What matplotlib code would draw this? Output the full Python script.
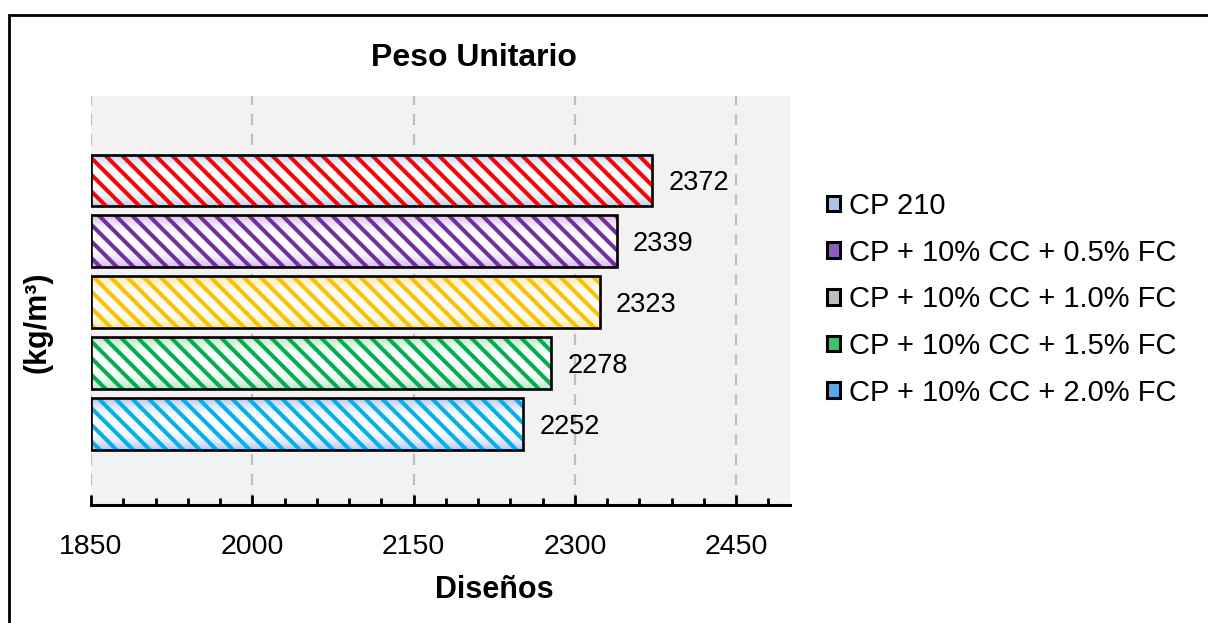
import numpy as np
import matplotlib.pyplot as plt
from matplotlib.colors import to_rgb
from matplotlib.patches import Patch, Rectangle

plt.rcParams['font.family'] = ['Liberation Sans', 'DejaVu Sans']
plt.rcParams['hatch.linewidth'] = 2.9

# data (bottom to top)
labels = ['CP + 10% CC + 2.0% FC', 'CP + 10% CC + 1.5% FC', 'CP + 10% CC + 1.0% FC',
          'CP + 10% CC + 0.5% FC', 'CP 210']
values = [2252, 2278, 2323, 2339, 2372]
bar_colors = ['#00B0F0', '#00B050', '#FFC000', '#7030A0', '#FF0000']
tint_colors = ['#B4C2F0', '#B8E6C4', '#FFE8A8', '#D4B8EC', '#B8D4F0']
legend_fill = ['#5BA8E8', '#3CC46A', '#BFBFBF', '#8E5CC0', '#A9C4E4']
xticks = [1850, 2000, 2150, 2300, 2450]

fig = plt.figure(figsize=(12.08, 6.23), dpi=100)
ax = fig.add_axes([91/1208, 1-505/623, (790-91)/1208, (505-96)/623])
ax.set_facecolor('#F2F2F2')

ypos = list(range(len(values)))
left = 1850
widths = [v - left for v in values]

# hatched fill
bars = ax.barh(ypos, widths, left=left, height=0.84, facecolor='none',
               edgecolor=bar_colors, hatch='\\\\', linewidth=0, zorder=3)

# soft gradient behind the hatch (white centre, tinted edges)
t = np.linspace(-1, 1, 60)
w = (np.abs(t) ** 2.5)[:, None]
for b, tc in zip(bars, tint_colors):
    rgb = np.array(to_rgb(tc))
    grad = (1 - w)[:, :, None] * np.ones(3) + w[:, :, None] * rgb
    x0, y0 = b.get_x(), b.get_y()
    ax.imshow(grad, extent=[x0, x0 + b.get_width(), y0, y0 + b.get_height()],
              origin='lower', aspect='auto', zorder=2.5, interpolation='bilinear')

# black outline
ax.barh(ypos, widths, left=left, height=0.84, fill=False,
        edgecolor='black', linewidth=1.9, zorder=4)

for y, v in zip(ypos, values):
    ax.text(v + 15, y - 0.05, str(v), va='center', ha='left', fontsize=19.5)

ax.set_xlim(1850, 2500)
ax.set_ylim(-1.33, 5.38)
ax.set_aspect('auto')
ax.set_xticks(xticks)
ax.set_xticks(list(range(1850, 2501, 30)), minor=True)
ax.tick_params(axis='x', which='major', direction='in', length=7, width=2,
               labelsize=20.5, pad=21)
ax.tick_params(axis='x', which='minor', direction='in', length=5, width=2)
ax.set_yticks([])
for s in ['left', 'right', 'top']:
    ax.spines[s].set_visible(False)
ax.spines['bottom'].set_linewidth(2.2)
ax.xaxis.grid(True, which='major', color='#BFBFBF', linestyle=(0, (5, 4)),
              linewidth=1.6, zorder=0)
ax.set_axisbelow(True)

fig.text(474/1208, 1-58/623, 'Peso Unitario', fontsize=23, fontweight='bold',
         ha='center', va='center')
fig.text(494/1208, 1-590/623, 'Diseños', fontsize=22, fontweight='bold',
         ha='center', va='center')
fig.text(37/1208, 1-322/623, '(kg/m³)', fontsize=22, fontweight='bold',
         ha='center', va='center', rotation=90)

handles = [Patch(facecolor=c, edgecolor='black', linewidth=2.2) for c in legend_fill]
fig.legend(handles[::-1], labels[::-1], loc='upper left',
           bbox_to_anchor=(827/1208, 1-192/623), frameon=False, fontsize=21,
           handlelength=0.45, handleheight=0.45, handletextpad=0.3,
           labelspacing=0.64, borderpad=0, borderaxespad=0)

# outer chart border
fig.patches.append(Rectangle((9/1208, -0.1), 1.2, 1.1 - 15/623, transform=fig.transFigure,
                             fill=False, edgecolor='black', linewidth=2))

fig.savefig('out.png', dpi=100)
